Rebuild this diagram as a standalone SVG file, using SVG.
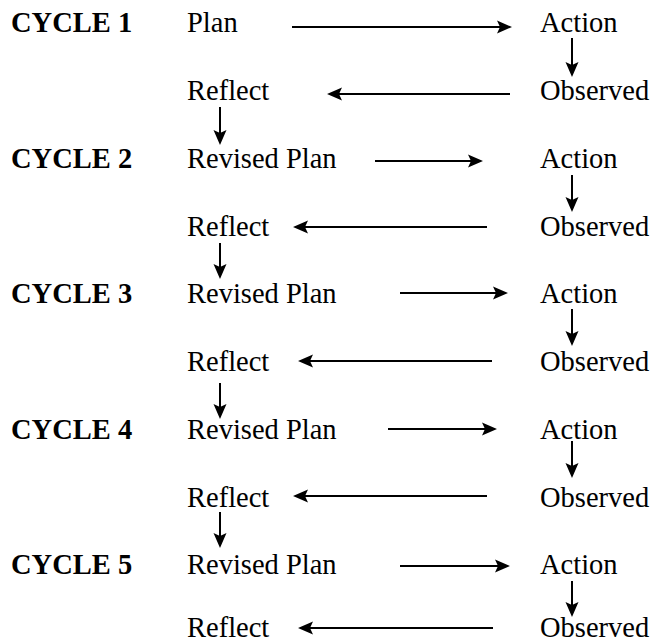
<svg xmlns="http://www.w3.org/2000/svg" width="655" height="643" viewBox="0 0 655 643">
<style>
  text { font-family: "Liberation Serif", "Times New Roman", serif; font-size: 28.5px; fill: #000; }
  .cyc { font-weight: bold; }
  .conn line { stroke: #000; stroke-width: 2; fill: none; marker-end: url(#ah); }
</style>
<defs>
  <marker id="ah" markerUnits="userSpaceOnUse" markerWidth="16" markerHeight="14" viewBox="0 0 16 14" refX="3" refY="7" orient="auto">
    <path d="M0,0.5 L15,7 L0,13.5 L3,7 Z" fill="#000"/>
  </marker>
</defs>
<rect width="655" height="643" fill="#fff"/>

<g id="cycle1">
  <text class="cyc" x="11" y="32">CYCLE 1</text>
  <g id="c1-plan"><text x="187" y="32">Plan</text></g>
  <g id="c1-action"><text x="540" y="32">Action</text></g>
  <g id="c1-observed"><text x="540" y="100">Observed</text></g>
  <g id="c1-reflect"><text x="187" y="100">Reflect</text></g>
</g>
<g id="cycle2">
  <text class="cyc" x="11" y="167.5">CYCLE 2</text>
  <g id="c2-plan"><text x="187" y="167.5">Revised Plan</text></g>
  <g id="c2-action"><text x="540" y="167.5">Action</text></g>
  <g id="c2-observed"><text x="540" y="235.5">Observed</text></g>
  <g id="c2-reflect"><text x="187" y="235.5">Reflect</text></g>
</g>
<g id="cycle3">
  <text class="cyc" x="11" y="303">CYCLE 3</text>
  <g id="c3-plan"><text x="187" y="303">Revised Plan</text></g>
  <g id="c3-action"><text x="540" y="303">Action</text></g>
  <g id="c3-observed"><text x="540" y="371">Observed</text></g>
  <g id="c3-reflect"><text x="187" y="371">Reflect</text></g>
</g>
<g id="cycle4">
  <text class="cyc" x="11" y="439">CYCLE 4</text>
  <g id="c4-plan"><text x="187" y="439">Revised Plan</text></g>
  <g id="c4-action"><text x="540" y="439">Action</text></g>
  <g id="c4-observed"><text x="540" y="507">Observed</text></g>
  <g id="c4-reflect"><text x="187" y="507">Reflect</text></g>
</g>
<g id="cycle5">
  <text class="cyc" x="11" y="573.5">CYCLE 5</text>
  <g id="c5-plan"><text x="187" y="573.5">Revised Plan</text></g>
  <g id="c5-action"><text x="540" y="573.5">Action</text></g>
  <g id="c5-observed"><text x="540" y="636.5">Observed</text></g>
  <g id="c5-reflect"><text x="187" y="636.5">Reflect</text></g>
</g>

<g id="connectors" class="conn">
  <!-- plan -> action -->
  <line x1="292" y1="27" x2="500" y2="27"/>
  <line x1="375" y1="161" x2="471" y2="161"/>
  <line x1="400" y1="293" x2="496" y2="293"/>
  <line x1="388" y1="429" x2="485" y2="429"/>
  <line x1="400" y1="566" x2="498" y2="566"/>
  <!-- action -> observed -->
  <line x1="572" y1="38" x2="572" y2="65"/>
  <line x1="572" y1="175" x2="572" y2="200"/>
  <line x1="572" y1="309" x2="572" y2="334"/>
  <line x1="572" y1="441" x2="572" y2="466"/>
  <line x1="572" y1="581" x2="572" y2="605"/>
  <!-- observed -> reflect -->
  <line x1="510" y1="94" x2="339" y2="94"/>
  <line x1="487" y1="227" x2="305" y2="227"/>
  <line x1="492" y1="361" x2="310" y2="361"/>
  <line x1="487" y1="496" x2="305" y2="496"/>
  <line x1="493" y1="628" x2="310" y2="628"/>
  <!-- reflect -> revised plan -->
  <line x1="220" y1="107" x2="220" y2="133"/>
  <line x1="220" y1="243" x2="220" y2="267"/>
  <line x1="220" y1="383" x2="220" y2="407"/>
  <line x1="220" y1="512" x2="220" y2="536"/>
</g>
</svg>
